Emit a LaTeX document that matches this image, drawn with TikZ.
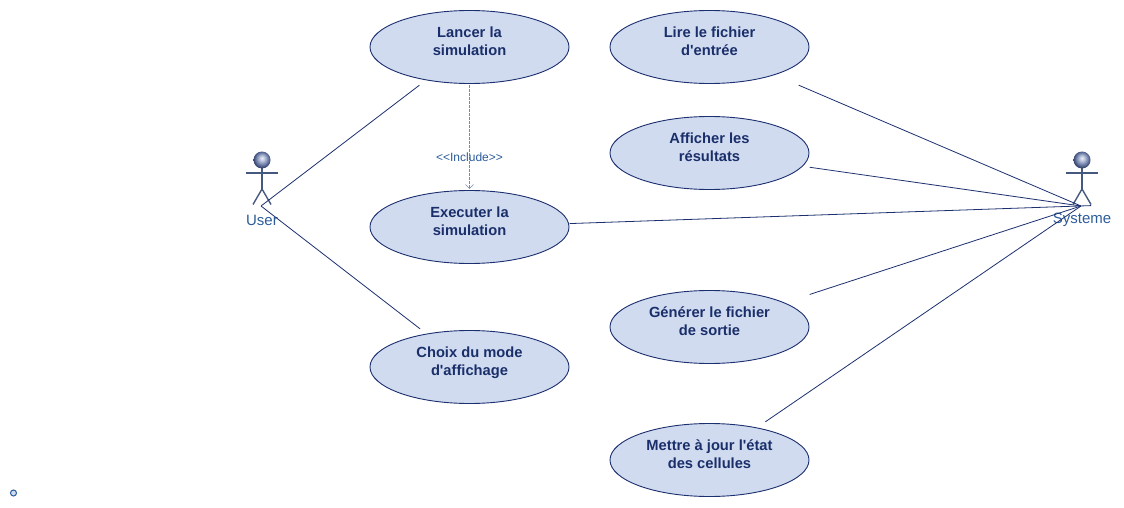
\documentclass[tikz,border=0pt]{standalone}
\usepackage{fontspec}
\setmainfont{Liberation Sans}
\usetikzlibrary{arrows.meta}
\definecolor{caseFill}{HTML}{D0DBF0}
\definecolor{caseLine}{HTML}{1C2F6E}
\definecolor{caseText}{HTML}{1A2F6A}
\definecolor{actorLine}{HTML}{45587F}
\definecolor{actorText}{HTML}{2C5C9A}
\pgfdeclareradialshading{actorball}{\pgfpoint{0bp}{6bp}}{
  rgb(0bp)=(0.93,0.94,0.97); rgb(8bp)=(0.72,0.76,0.86);
  rgb(18bp)=(0.42,0.48,0.64); rgb(25bp)=(0.22,0.28,0.45); rgb(50bp)=(0.22,0.28,0.45)}
\tikzset{
    usecase/.style={rectangle, minimum width=200, minimum height=76, inner sep=0,
      align=center, text=caseText, text depth=11, font=\fontsize{14.7}{18}\selectfont\bfseries,
      path picture={\draw[caseLine, fill=caseFill, line width=0.9]
        (path picture bounding box.center) ellipse (99.5 and 36.5);}},
    actor/.style={inner sep=0, text=actorText, font=\fontsize{15}{17}\selectfont},
    stick/.style={actorLine, line width=1.4},
    link/.style={caseLine, line width=0.8},
    include/.style={actorLine!70, line width=0.8, dashed, dash pattern=on 2.5 off 1.5,
      -{Straight Barb[length=4,width=8,line width=0.5]}}
}
\begin{document}
\begin{tikzpicture}[x=1pt,y=-1pt]
    \useasboundingbox (0, 0) rectangle (1124, 508);
    % use cases
    \node[usecase] (lancer) at (469.5, 47) {Lancer la\\simulation};
    \node[usecase] (executer) at (469.5, 227) {Executer la\\simulation};
    \node[usecase] (choix) at (469.5, 367) {Choix du mode\\d\textquotesingle affichage};
    \node[usecase] (lire) at (709.5, 47) {Lire le fichier\\d\textquotesingle entrée};
    \node[usecase] (afficher) at (709.5, 153) {Afficher les\\résultats};
    \node[usecase] (generer) at (709.5, 327) {Générer le fichier\\de sortie};
    \node[usecase] (mettre) at (709.5, 460) {Mettre à jour l\textquotesingle état\\des cellules};
    % actors
    \foreach \name/\px/\label in {user/262/User, systeme/1082/Systeme} {
      \draw[stick] (\px-16, 173) -- (\px+16, 173);
      \draw[stick] (\px, 168) -- (\px, 189);
      \draw[stick] (\px-9, 204.5) -- (\px, 189) -- (\px+9, 204.5);
      \shade[shading=actorball] (\px, 160) circle (8.5);
      \node[actor] (\name Label) at (\px, 220) {\label};
    }
    \coordinate (userC) at (261, 206);
    \coordinate (systemeC) at (1081, 206);
    \coordinate (systemeE) at (1091, 205.6);
    % links
    \draw[link] (userC) -- (lancer);
    \draw[link] (userC) -- (choix);
    \draw[link] (executer) -- (systemeE);
    \draw[link] (lire) -- (systemeC);
    \draw[link] (afficher) -- (systemeC);
    \draw[link] (generer) -- (systemeC);
    \draw[link] (mettre) -- (systemeC);
    \draw[include] (lancer.south) -- (executer.north);
    \node[inner sep=0, text=actorText, font=\fontsize{12}{13}\selectfont] (includeLabel) at (469.5, 157.5) {{<}{<}Include{>}{>}};
    \node[circle, draw=actorText, fill=caseFill, line width=1, minimum size=6, inner sep=0] (origin) at (13.5, 493) {};
\end{tikzpicture}
\end{document}
